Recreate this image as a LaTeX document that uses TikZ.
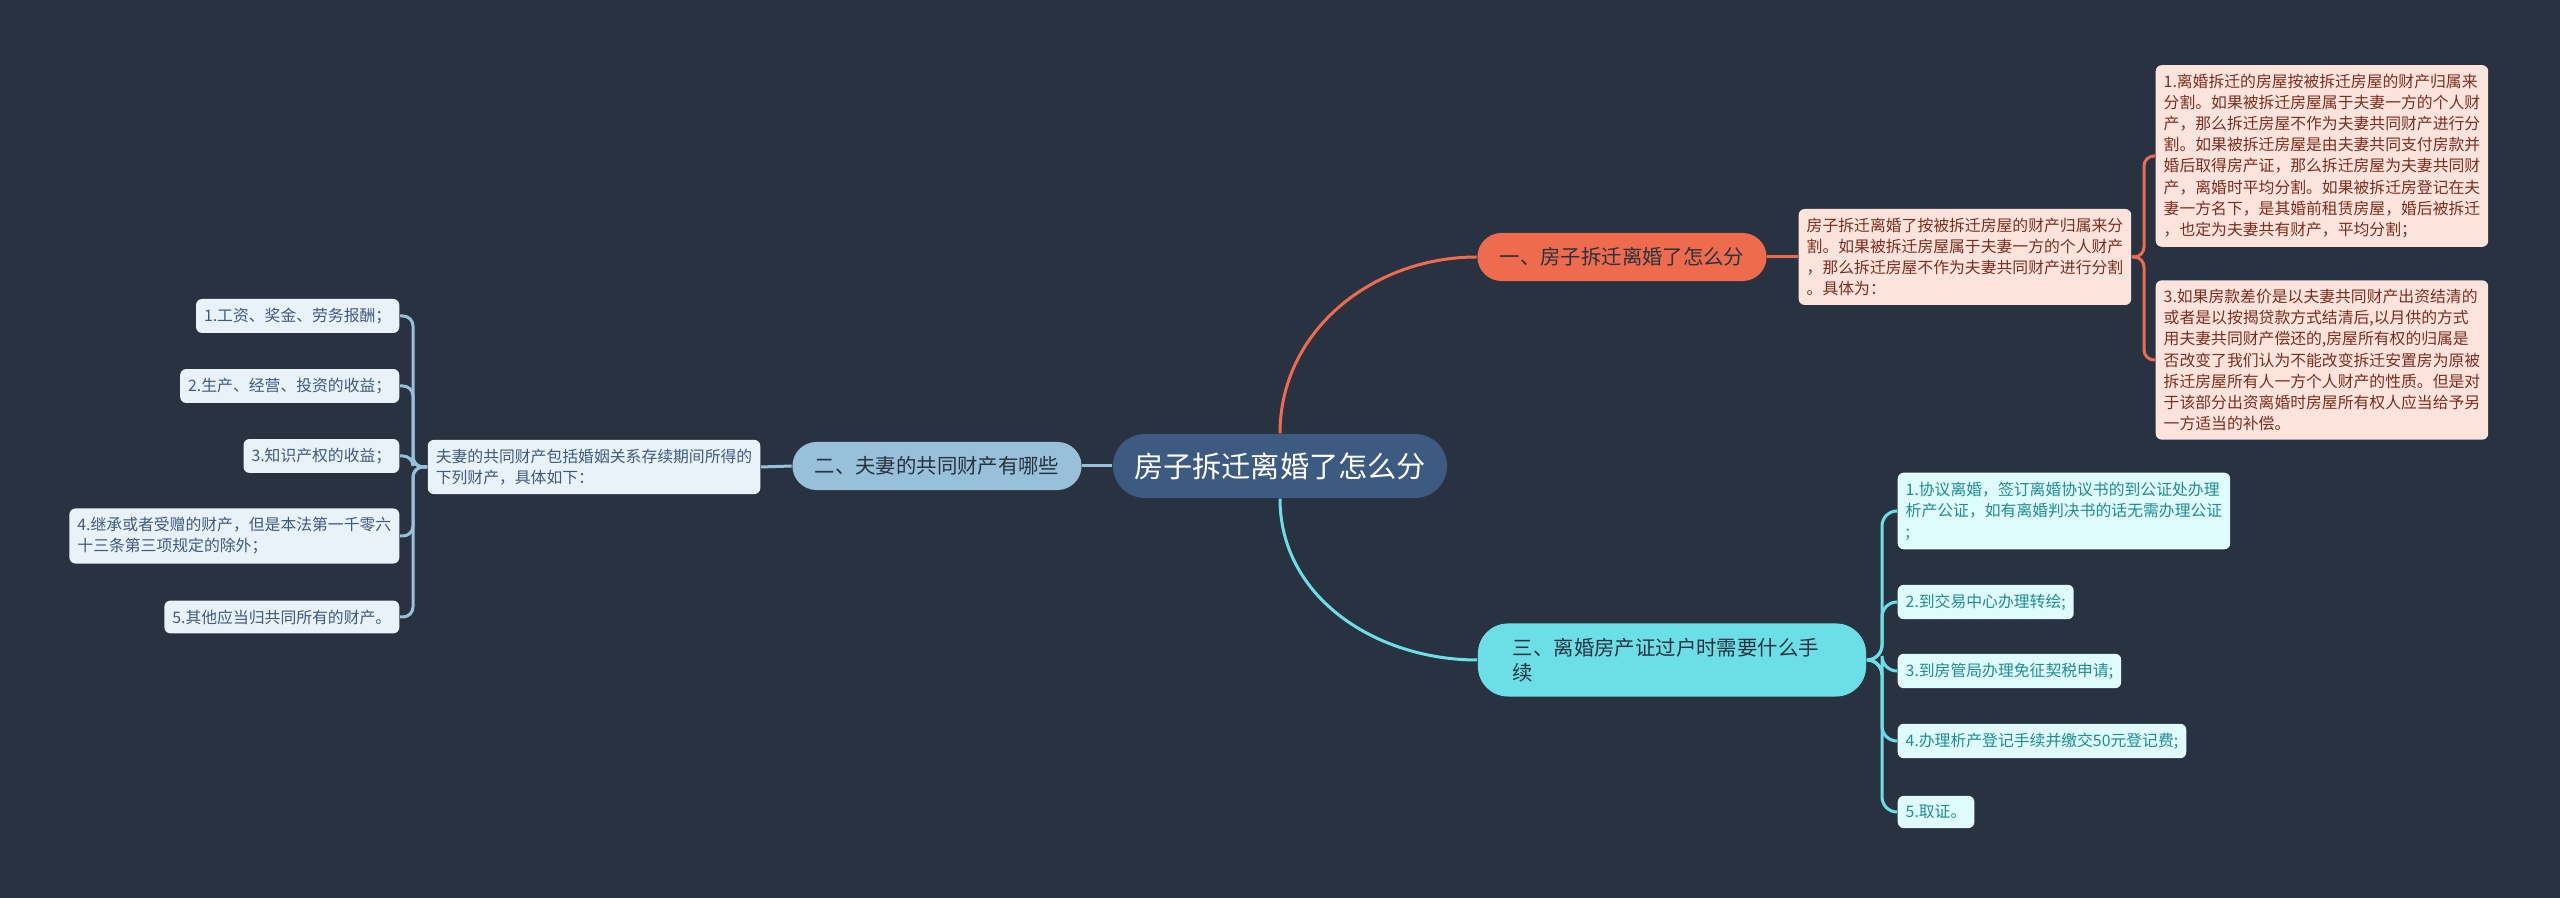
\documentclass[tikz,border=0pt]{standalone}
\usepackage{fontspec}
\setmainfont{Noto Sans CJK SC}
\definecolor{bgnavy}{HTML}{293241}
\definecolor{ctrblue}{HTML}{3D5A80}
\definecolor{coral}{HTML}{EE6C4D}
\definecolor{skyblue}{HTML}{98C1D9}
\definecolor{aqua}{HTML}{6CDFE6}
\definecolor{pinkfill}{HTML}{FCE4DD}
\definecolor{pinktext}{HTML}{7A2E1F}
\definecolor{icefill}{HTML}{E9F2F8}
\definecolor{aquafill}{HTML}{E0FBFC}
\definecolor{tealtext}{HTML}{1E8C93}
\begin{document}
\begin{tikzpicture}[x=0.01cm,y=0.01cm,
  root/.style={fill=ctrblue,text=white,rounded corners=0.32cm,minimum width=3.34cm,minimum height=0.64cm,font=\fontsize{8.3}{10}\selectfont},
  topic/.style={rounded corners=0.24cm,minimum height=0.48cm,minimum width=2.89cm,text=bgnavy,font=\fontsize{5.8}{7.1}\selectfont},
  leaf/.style={rounded corners=0.06cm,inner xsep=0.08cm,inner ysep=0.09cm,align=left,font=\fontsize{4.5}{6}\selectfont},
  pinkleaf/.style={leaf,fill=pinkfill,text=pinktext},
  iceleaf/.style={leaf,fill=icefill,text=ctrblue},
  aqualeaf/.style={leaf,fill=aquafill,text=tealtext},
  link/.style={line width=0.03cm}]
  \fill[bgnavy] (0,0) rectangle (2560,-898);
  \node[root] (ctr) at (1280,-466) {房子拆迁离婚了怎么分};
  \node[topic,fill=coral] (n1) at (1622,-257) {一、房子拆迁离婚了怎么分};
  \node[topic,fill=skyblue] (n2) at (937,-466) {二、夫妻的共同财产有哪些};
  \node[topic,fill=aqua,rounded corners=0.3cm,minimum height=0.73cm,text width=3.18cm,align=left,inner xsep=0.35cm] (n3) at (1672,-660) {三、离婚房产证过户时需要什么手\\续};
  \node[pinkleaf,anchor=west] (d1) at (1798,-257) {房子拆迁离婚了按被拆迁房屋的财产归属来分\\割。如果被拆迁房屋属于夫妻一方的个人财产\\，那么拆迁房屋不作为夫妻共同财产进行分割\\。具体为：};
  \node[pinkleaf,anchor=west] (a1) at (2155,-156) {1.离婚拆迁的房屋按被拆迁房屋的财产归属来\\分割。如果被拆迁房屋属于夫妻一方的个人财\\产，那么拆迁房屋不作为夫妻共同财产进行分\\割。如果被拆迁房屋是由夫妻共同支付房款并\\婚后取得房产证，那么拆迁房屋为夫妻共同财\\产，离婚时平均分割。如果被拆迁房登记在夫\\妻一方名下，是其婚前租赁房屋，婚后被拆迁\\，也定为夫妻共有财产，平均分割；};
  \node[pinkleaf,anchor=west] (a3) at (2155,-360) {3.如果房款差价是以夫妻共同财产出资结清的\\或者是以按揭贷款方式结清后,以月供的方式\\用夫妻共同财产偿还的,房屋所有权的归属是\\否改变了我们认为不能改变拆迁安置房为原被\\拆迁房屋所有人一方个人财产的性质。但是对\\于该部分出资离婚时房屋所有权人应当给予另\\一方适当的补偿。};
  \node[iceleaf,anchor=east] (d2) at (761,-467) {夫妻的共同财产包括婚姻关系存续期间所得的\\下列财产，具体如下：};
  \node[iceleaf,anchor=east] (c1) at (400,-316) {1.工资、奖金、劳务报酬；};
  \node[iceleaf,anchor=east] (c2) at (400,-386) {2.生产、经营、投资的收益；};
  \node[iceleaf,anchor=east] (c3) at (400,-456) {3.知识产权的收益；};
  \node[iceleaf,anchor=east] (c4) at (400,-536) {4.继承或者受赠的财产，但是本法第一千零六\\十三条第三项规定的除外；};
  \node[iceleaf,anchor=east] (c5) at (400,-617) {5.其他应当归共同所有的财产。};
  \node[aqualeaf,anchor=west] (b1) at (1897,-511) {1.协议离婚，签订离婚协议书的到公证处办理\\析产公证，如有离婚判决书的话无需办理公证\\;};
  \node[aqualeaf,anchor=west] (b2) at (1897,-602) {2.到交易中心办理转绘;};
  \node[aqualeaf,anchor=west] (b3) at (1897,-671) {3.到房管局办理免征契税申请;};
  \node[aqualeaf,anchor=west] (b4) at (1897,-741) {4.办理析产登记手续并缴交50元登记费;};
  \node[aqualeaf,anchor=west] (b5) at (1897,-812) {5.取证。};
  \coordinate (j1) at (2144,-257);
  \coordinate (j2) at (413,-467);
  \coordinate (j3) at (1882,-660);
  \draw[link,coral] (ctr.north) to[out=90,in=180] (n1.west);
  \draw[link,coral] (n1.east) -- (d1.west);
  \draw[link,coral,rounded corners=0.1cm] (d1.east) -- (j1) |- (a1.west);
  \draw[link,coral,rounded corners=0.1cm] (d1.east) -- (j1) |- (a3.west);
  \draw[link,skyblue] (ctr.west) -- (n2.east);
  \draw[link,skyblue] (n2.west) -- (d2.east);
  \foreach \c in {c1,c2,c3,c4,c5}
    \draw[link,skyblue,rounded corners=0.1cm] (d2.west) -- (j2) |- (\c.east);
  \draw[link,aqua] (ctr.south) to[out=-90,in=180] (n3.west);
  \foreach \b in {b1,b2,b3,b4,b5}
    \draw[link,aqua,rounded corners=0.15cm] (n3.east) -- (j3) |- (\b.west);
\end{tikzpicture}
\end{document}
